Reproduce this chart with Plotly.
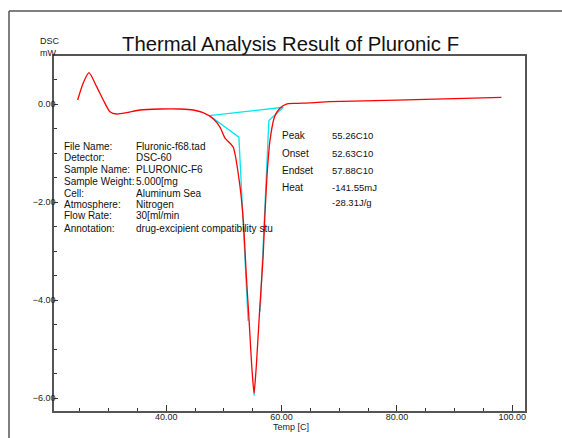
import plotly.graph_objects as go

# ---- data ----
dsc_temp = [24.65, 25.6, 26.61, 27.94, 29.09, 30.25, 31.4, 33.14, 35.45, 38.9, 42.37,
            44.7, 46.4, 48.1, 49.3, 50.2, 51.6, 52.8, 53.4, 53.9, 54.4, 54.8, 55.0,
            55.23, 55.45, 55.65, 56.2, 56.8, 57.1, 57.5, 58.0, 58.8, 59.7, 60.84,
            62.3, 64.9, 68.4, 80.0, 90.0, 98.1]
dsc_mw = [0.088, 0.43, 0.645, 0.36, 0.088, -0.15, -0.198, -0.17, -0.116, -0.096, -0.096,
          -0.116, -0.17, -0.29, -0.46, -0.69, -0.87, -1.68, -2.43, -3.52, -4.47, -5.29, -5.62,
          -5.90, -5.62, -5.29, -4.2, -3.11, -2.29, -1.41, -0.73, -0.25, -0.08, 0.006,
          0.02, 0.03, 0.053, 0.085, 0.115, 0.143]

base_temp = [47.5, 60.3]
base_mw = [-0.23, -0.06]
left_tan_temp = [47.5, 52.6, 54.2]
left_tan_mw = [-0.23, -0.67, -4.42]
right_tan_temp = [56.28, 57.8, 60.3]
right_tan_mw = [-4.23, -0.33, -0.06]
tip_temp = [55.23, 55.26]
tip_mw = [-5.87, -5.95]

x_ticks = [40, 60, 80, 100]
y_ticks = [0, -2, -4, -6]

info_labels = ["File Name:", "Detector:", "Sample Name:", "Sample Weight:", "Cell:",
               "Atmosphere:", "Flow Rate:", "Annotation:"]
info_values = ["Fluronic-f68.tad", "DSC-60", "PLURONIC-F6", "5.000[mg", "Aluminum Sea",
               "Nitrogen", "30[ml/min", "drug-excipient compatibility stu"]
res_labels = ["Peak", "Onset", "Endset", "Heat", ""]
res_values = ["55.26C10", "52.63C10", "57.88C10", "-141.55mJ", "-28.31J/g"]

# ---- geometry helpers (pixel -> paper) ----
L, R, T, B = 54, 525, 56, 411
def px(x):
    return (x - L) / (R - L)
def py(y):
    return (B - y) / (B - T)

fig = go.Figure()
cyan = "#00e8f0"
for xs, ys in [(base_temp, base_mw), (left_tan_temp, left_tan_mw),
               (right_tan_temp, right_tan_mw), (tip_temp, tip_mw)]:
    fig.add_trace(go.Scatter(x=xs, y=ys, mode="lines",
                             line=dict(color=cyan, width=1.3), hoverinfo="skip"))
fig.add_trace(go.Scatter(x=dsc_temp, y=dsc_mw, mode="lines",
                         line=dict(color="#ff0000", width=1.3, shape="spline", smoothing=0.6)))

font = "Liberation Sans, Arial, sans-serif"
ann = []
ann.append(dict(text="Thermal Analysis Result of Pluronic F", x=px(120), y=py(57),
                xanchor="left", yanchor="bottom", font=dict(size=20.3, color="#111")))
ann.append(dict(text="DSC<br>mW", x=px(38), y=py(60), xanchor="left", yanchor="bottom",
                align="left", font=dict(size=9, color="#222")))
ann.append(dict(text="Temp [C]", x=px(271), y=py(427), xanchor="left", yanchor="middle",
                font=dict(size=9, color="#222")))
rows = [146, 157.5, 169, 181, 193, 204, 216, 228]
for lab, val, yy in zip(info_labels, info_values, rows):
    ann.append(dict(text=lab, x=px(62), y=py(yy), xanchor="left", yanchor="middle",
                    font=dict(size=10, color="#111")))
    ann.append(dict(text=val, x=px(134), y=py(yy), xanchor="left", yanchor="middle",
                    font=dict(size=10, color="#111")))
rrows = [135, 153, 170, 188, 202]
for lab, val, yy in zip(res_labels, res_values, rrows):
    if lab:
        ann.append(dict(text=lab, x=px(280), y=py(yy), xanchor="left", yanchor="middle",
                        font=dict(size=10, color="#111")))
    ann.append(dict(text=val, x=px(330), y=py(yy), xanchor="left", yanchor="middle",
                    font=dict(size=9.5, color="#111")))
for a in ann:
    a.update(xref="paper", yref="paper", showarrow=False)

shapes = [
    dict(type="line", xref="paper", yref="paper", x0=px(9), y0=py(11), x1=px(562), y1=py(11),
         line=dict(color="#555", width=1.5)),
    dict(type="line", xref="paper", yref="paper", x0=px(9), y0=py(11), x1=px(9), y1=py(440),
         line=dict(color="#555", width=1.5)),
]

fig.update_layout(
    width=562, height=438, margin=dict(l=L, r=562 - R, t=T, b=438 - B),
    paper_bgcolor="white", plot_bgcolor="white", showlegend=False,
    font=dict(family=font, color="#222"),
    annotations=ann, shapes=shapes,
)
fig.update_xaxes(range=[20.55, 102.2], tickvals=x_ticks, tickformat=".2f",
                 ticks="inside", ticklen=6, tickcolor="#333", ticklabelstandoff=-4,
                 minor=dict(dtick=5, tick0=0, ticks="inside", ticklen=3, tickcolor="#333"),
                 showgrid=False, zeroline=False, showline=True, linecolor="#555", linewidth=1.5,
                 mirror=True, tickfont=dict(size=9, color="#222"))
fig.update_yaxes(range=[-6.26, 0.986], tickvals=y_ticks, tickformat=".2f",
                 ticks="inside", ticklen=4, tickcolor="#333", ticklabelstandoff=-5,
                 minor=dict(dtick=0.5, tick0=0, ticks="inside", ticklen=3, tickcolor="#333"),
                 showgrid=False, zeroline=False, showline=True, linecolor="#555", linewidth=1.5,
                 mirror=True, tickfont=dict(size=9, color="#222"))

fig.write_html("out.html")
